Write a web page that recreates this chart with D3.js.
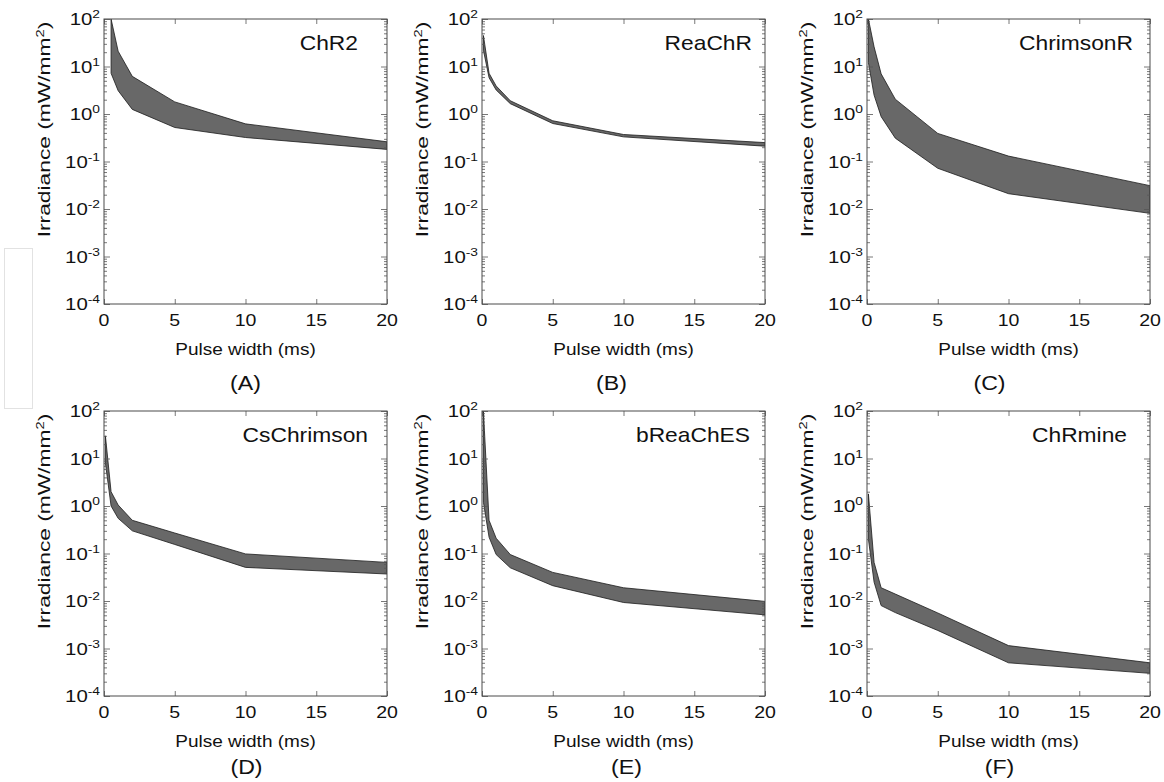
<!DOCTYPE html>
<html>
<head>
<meta charset="utf-8">
<script src="https://cdn.jsdelivr.net/npm/d3@7/dist/d3.min.js"></script>
<style>
  body { margin: 0; background: #fff; }
  svg text { font-family: "Liberation Sans", Arial, sans-serif; fill: #111; }
</style>
</head>
<body>
<svg id="chart" width="1164" height="782"></svg>
<script>
// Opsin names, one per panel, and the panel letters.
var opsins = ["ChR2", "ReaChR", "ChrimsonR", "CsChrimson", "bReaChES", "ChRmine"];
var letters = ["(A)", "(B)", "(C)", "(D)", "(E)", "(F)"];

// Pulse widths (ms) sampled in each panel.
var widthsChR2 = [0.5, 1, 2, 5, 10, 20];
var widthsOther = [0.1, 0.5, 1, 2, 5, 10, 20];

// Upper and lower edges of the irradiance band (mW/mm^2).
var chr2Hi = [100, 21, 6.2, 1.8, 0.62, 0.26];
var chr2Lo = [7.2, 3.1, 1.25, 0.52, 0.32, 0.18];
var reachrHi = [45, 7.2, 3.9, 1.9, 0.72, 0.37, 0.25];
var reachrLo = [22, 5.8, 3.2, 1.65, 0.63, 0.33, 0.21];
var chrimsonRHi = [100, 26, 7.0, 2.05, 0.39, 0.13, 0.031];
var chrimsonRLo = [12, 2.5, 0.88, 0.31, 0.072, 0.021, 0.0081];
var csChrimsonHi = [30, 2.0, 1.05, 0.5, 0.27, 0.098, 0.065];
var csChrimsonLo = [8, 1.0, 0.55, 0.3, 0.155, 0.051, 0.037];
var breachesHi = [100, 0.5, 0.21, 0.095, 0.04, 0.019, 0.0098];
var breachesLo = [1.2, 0.22, 0.095, 0.05, 0.021, 0.0093, 0.0051];
var chrmineHi = [1.8, 0.065, 0.019, 0.014, 0.0056, 0.00115, 0.0005];
var chrmineLo = [0.2, 0.025, 0.008, 0.0057, 0.0024, 0.0005, 0.0003];

// Axis ticks.
var xTicks = [0, 5, 10, 15, 20];
var yExponents = [-4, -3, -2, -1, 0, 1, 2];

var bands = [
    [widthsChR2, chr2Hi, chr2Lo],
    [widthsOther, reachrHi, reachrLo],
    [widthsOther, chrimsonRHi, chrimsonRLo],
    [widthsOther, csChrimsonHi, csChrimsonLo],
    [widthsOther, breachesHi, breachesLo],
    [widthsOther, chrmineHi, chrmineLo]
];

// Layout.
var colLeft = [104, 482, 867];
var rowTop = [19, 411];
var plotW = 283, plotH = 285;
var titleRight = [29, 13, 17, 19, 15, 23];
var letterShift = [0, -12, -19, 1, 3, -9];
var letterDrop = [86, 78];

var svg = d3.select("#chart");

// Faint box at the left edge of the page.
svg.append("rect")
    .attr("x", 4.5).attr("y", 248.5).attr("width", 28).attr("height", 160)
    .attr("fill", "none").attr("stroke", "#e2e2e2");

function addText(g, x, y, str, size, anchor, scale) {
    return g.append("text")
        .attr("transform", "translate(" + x + "," + y + ") scale(" + scale + ",1)")
        .attr("text-anchor", anchor)
        .style("font-size", size + "px")
        .text(str);
}

var minorTicks = [];
for (var e = -4; e < 2; e++) {
    for (var k = 2; k < 10; k++) minorTicks.push(k * Math.pow(10, e));
}

opsins.forEach(function(name, i) {
    var left = colLeft[i % 3], top = rowTop[Math.floor(i / 3)];
    var g = svg.append("g").attr("transform", "translate(" + left + "," + top + ")");

    var x = d3.scaleLinear().domain([0, 20]).range([0, plotW]);
    var y = d3.scaleLog().domain([1e-4, 1e2]).range([plotH, 0]);

    var clipId = "clip" + i;
    g.append("clipPath").attr("id", clipId)
        .append("rect").attr("width", plotW).attr("height", plotH);

    // Band between the lower and upper edges.
    var b = bands[i];
    var data = b[0].map(function(w, j) { return {w: w, hi: b[1][j], lo: b[2][j]}; });
    var area = d3.area()
        .x(function(d) { return x(d.w); })
        .y0(function(d) { return y(d.lo); })
        .y1(function(d) { return y(d.hi); });
    g.append("path")
        .datum(data)
        .attr("clip-path", "url(#" + clipId + ")")
        .attr("d", area)
        .attr("fill", "#686868")
        .attr("stroke", "#1c1c1c")
        .attr("stroke-width", 0.8)
        .attr("stroke-linejoin", "round");

    // Ticks, all pointing inward.
    var majors = yExponents.map(function(p) { return Math.pow(10, p); });
    var axes = [
        [d3.axisLeft(y).tickValues(minorTicks).tickSize(-3), 0, 0],
        [d3.axisLeft(y).tickValues(majors).tickSize(-6), 0, 0],
        [d3.axisRight(y).tickValues(minorTicks).tickSize(-3), plotW, 0],
        [d3.axisRight(y).tickValues(majors).tickSize(-6), plotW, 0],
        [d3.axisBottom(x).tickValues(xTicks).tickSize(-5), 0, plotH],
        [d3.axisTop(x).tickValues(xTicks).tickSize(-5), 0, 0]
    ];
    axes.forEach(function(a) {
        var ag = g.append("g")
            .attr("transform", "translate(" + a[1] + "," + a[2] + ")")
            .call(a[0].tickFormat(""));
        ag.select(".domain").remove();
        ag.selectAll("line").attr("stroke", "#555").attr("stroke-width", 0.8);
    });

    g.append("rect")
        .attr("width", plotW).attr("height", plotH)
        .attr("fill", "none").attr("stroke", "#4a4a4a").attr("stroke-width", 1);

    // Y tick labels as powers of ten.
    yExponents.forEach(function(p) {
        var t = addText(g, -4, y(Math.pow(10, p)) + 6, "", 17, "end", 1.2);
        t.append("tspan").text("10");
        t.append("tspan").attr("dy", -7).style("font-size", "11.5px").text(String(p));
    });

    // X tick labels.
    xTicks.forEach(function(v) {
        addText(g, x(v), plotH + 22, String(v), 17, "middle", 1.15);
    });

    // Axis titles.
    addText(g, plotW / 2, plotH + 51, "Pulse width (ms)", 17, "middle", 1.12);
    var yl = g.append("text")
        .attr("transform", "translate(-54," + (plotH / 2 - 32) + ") rotate(-90) scale(1.34,1)")
        .attr("text-anchor", "middle")
        .style("font-size", "17px");
    yl.append("tspan").text("Irradiance (mW/mm");
    yl.append("tspan").attr("dy", -6).style("font-size", "11px").text("2");
    yl.append("tspan").attr("dy", 6).text(")");

    // Panel name and letter.
    addText(g, plotW - titleRight[i], 31, name, 20, "end", 1.14);
    addText(g, plotW / 2 + letterShift[i], plotH + letterDrop[Math.floor(i / 3)], letters[i], 21, "middle", 1.1);
});
</script>
</body>
</html>
